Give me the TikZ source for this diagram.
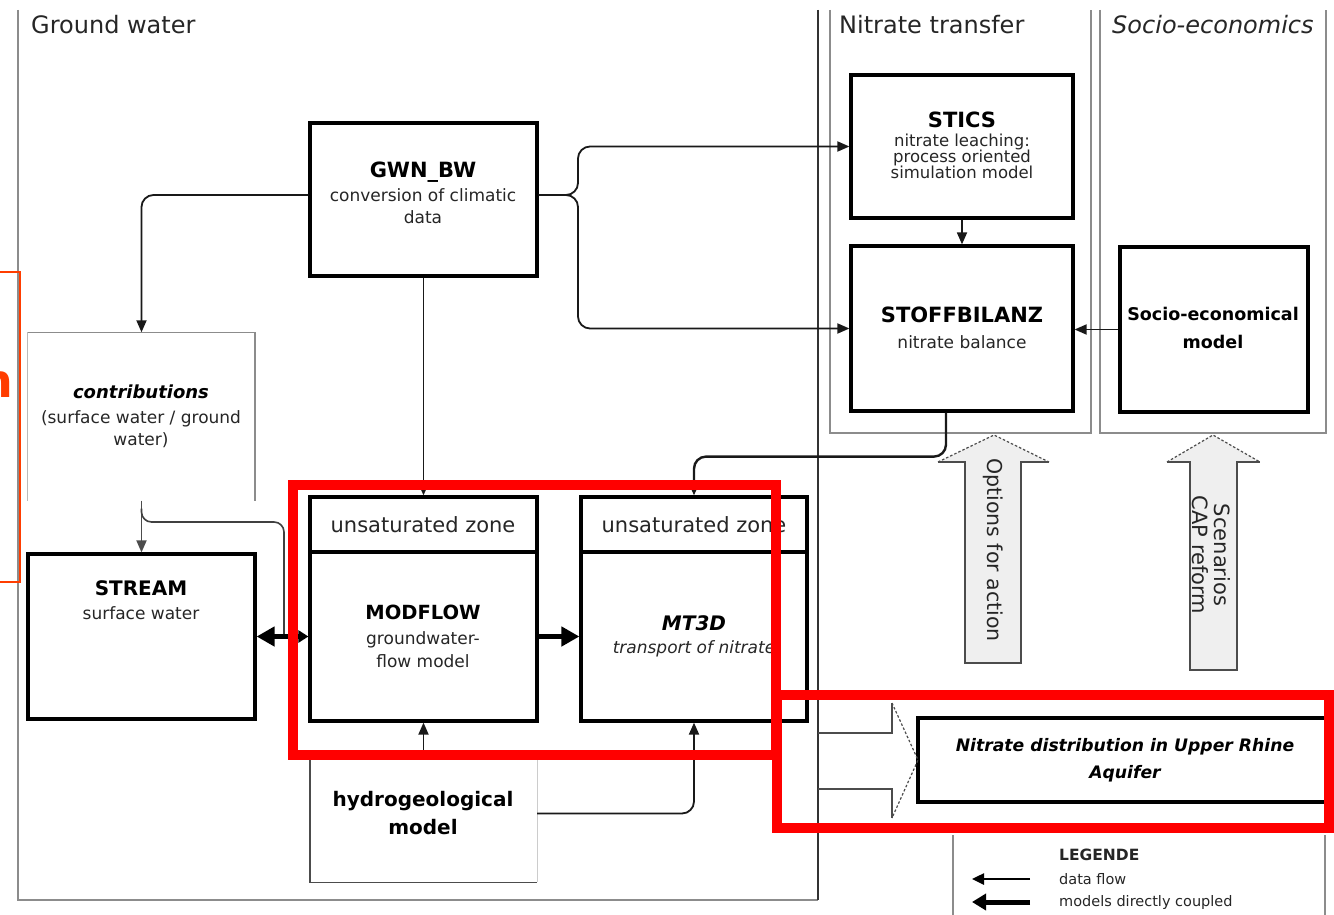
\documentclass[tikz,border=0pt]{standalone}
\usepackage{fontspec}
\setmainfont{DejaVu Sans}
\usetikzlibrary{arrows.meta}
\definecolor{txt}{HTML}{262626}
\definecolor{pan}{HTML}{8C8C8C}
\definecolor{redbox}{HTML}{FF0000}
\definecolor{orng}{HTML}{FF3D00}
\definecolor{arrfill}{HTML}{EFEFEF}
\begin{document}
\begin{tikzpicture}[x=1pt,y=-1pt,
  box/.style={draw=black, line width=3.2pt, inner sep=0pt},
  ghost/.style={draw=none, inner sep=0pt},
  panel/.style={draw=pan, line width=1.5pt},
  flow/.style={draw=black!90, line width=1.8pt, -{Triangle[length=12pt,width=10pt]}},
  plainline/.style={draw=black!75, line width=1.6pt},
  coupled/.style={draw=black, line width=5pt},
  paneltitle/.style={font=\fontsize{24}{28}\selectfont, text=txt, inner sep=0pt, anchor=west},
  title/.style={font=\bfseries\fontsize{21}{25}\selectfont, text=black, inner sep=0pt},
  sub/.style={font=\fontsize{17}{22}\selectfont, text=txt, inner sep=0pt, align=center},
  zone/.style={font=\fontsize{21}{25}\selectfont, text=txt, inner sep=0pt},
  legtxt/.style={font=\fontsize{14.5}{17}\selectfont, text=txt, inner sep=0pt, anchor=west},
  shaftline/.style={draw=black!70, line width=1.3pt},
  headline/.style={draw=black!70, line width=1.2pt, dash pattern=on 2.5pt off 2pt},
]
\useasboundingbox (0,0) rectangle (1334,915);
\clip (0,0) rectangle (1334,915);
\fill[white] (0,0) rectangle (1334,915);

% ---------- panels ----------
\draw[panel] (18,10) -- (18,900) -- (818,900);
\draw[draw=black!80, line width=1.3pt] (818,10) -- (818,900);
\draw[panel] (830,10) -- (830,433) -- (1091,433) -- (1091,10);
\draw[panel] (1100,10) -- (1100,433) -- (1326,433) -- (1326,10);
\draw[panel] (953,835) -- (953,915);
\draw[panel] (1325,835) -- (1325,915);

\node[paneltitle] (tGW) at (31,25) {Ground water};
\node[paneltitle] (tNT) at (839,25) {Nitrate transfer};
\node[paneltitle] (tSE) at (1112,25) {\itshape Socio-economics};

% ---------- boxes ----------
\node[box, minimum width=227pt, minimum height=153pt] (gwn) at (423.5,199.5) {};
\node[box, minimum width=222pt, minimum height=143pt] (stics) at (962,146.5) {};
\node[box, minimum width=222pt, minimum height=165pt] (stoff) at (962,328.5) {};
\node[box, minimum width=188pt, minimum height=165pt] (socio) at (1214,329.5) {};
\node[ghost, minimum width=227pt, minimum height=168pt] (contrib) at (141.5,416.5) {};
\draw[draw=pan!60, line width=1.2pt] (contrib.south west) -- (contrib.north west);
\draw[panel] (contrib.north west) -- (contrib.north east) -- (contrib.south east);
\node[box, minimum width=227pt, minimum height=165pt] (stream) at (141.5,636.5) {};
\node[box, minimum width=227pt, minimum height=55pt] (unsat1) at (423.5,524.5) {};
\node[box, minimum width=227pt, minimum height=169pt] (mod) at (423.5,636.5) {};
\node[box, minimum width=226pt, minimum height=55pt] (unsat2) at (694,524.5) {};
\node[box, minimum width=226pt, minimum height=169pt] (mt3d) at (694,636.5) {};
\node[ghost, minimum width=227pt, minimum height=125pt] (hydro) at (423.5,819.5) {};
\draw[draw=black!70, line width=1.4pt] (hydro.north west) -- (hydro.south west) -- (hydro.south east);
\draw[draw=black!20, line width=1pt] (hydro.south east) -- (hydro.north east);
\node[box, line width=4.5pt, minimum width=410pt, minimum height=84pt] (nitr) at (1123,760) {};

% ---------- texts ----------
\node[title] (gwnT) at (423,172) {GWN\_BW};
\node[sub] (gwnS) at (423,206) {conversion of climatic\\data};
\node[title] (sticsT) at (962,120) {STICS};
\node[sub, font=\fontsize{16.5}{16}\selectfont] (sticsS) at (962,156) {nitrate leaching:\\process oriented\\simulation model};
\node[title] (stoffT) at (962,315) {STOFFBILANZ};
\node[sub] (stoffS) at (962,342) {nitrate balance};
\node[sub, font=\bfseries\fontsize{17.5}{28}\selectfont, text=black] (socioT) at (1213,328) {Socio-economical\\model};
\node[title, font=\bfseries\itshape\fontsize{18}{22}\selectfont] (contribT) at (141,392) {contributions};
\node[sub] (contribS) at (141,429) {(surface water / ground\\water)};
\node[title, font=\bfseries\fontsize{20}{24}\selectfont] (streamT) at (141,588) {STREAM};
\node[sub] (streamS) at (141,613) {surface water};
\node[zone] (unsat1T) at (423,525) {unsaturated zone};
\node[zone] (unsat2T) at (694,525) {unsaturated zone};
\node[title, font=\bfseries\fontsize{19.5}{24}\selectfont] (modT) at (423,612) {MODFLOW};
\node[sub, font=\fontsize{17}{23}\selectfont] (modS) at (423,650) {groundwater-\\flow model};
\node[title, font=\bfseries\itshape\fontsize{20}{24}\selectfont] (mt3dT) at (694,623) {MT3D};
\node[sub, font=\itshape\fontsize{17}{22}\selectfont] (mt3dS) at (694,649) {transport of nitrate};
\node[sub, font=\bfseries\fontsize{20}{28}\selectfont, text=black] (hydroT) at (423,813) {hydrogeological\\model};
\node[sub, font=\bfseries\itshape\fontsize{17.2}{27}\selectfont, text=black] (nitrT) at (1125,760) {Nitrate distribution in Upper Rhine\\Aquifer};

% ---------- connectors ----------
\coordinate (split) at (578,195);
\draw[flow, rounded corners=12pt] ([yshift=4.5pt]gwn.west) -| (contrib.north);
\draw[flow, rounded corners=12pt] ([yshift=4.5pt]gwn.east) -| (split |- stics.west) -- (stics.west);
\draw[flow, rounded corners=12pt] ([yshift=4.5pt]gwn.east) -| (split |- stoff.west) -- (stoff.west);
\draw[flow] (gwn.south) -- (unsat1.north);
\draw[flow] (stics.south) -- (stics.south |- stoff.north);
\draw[flow] (socio.west) -- (socio.west -| stoff.east);
\draw[flow, line width=2.4pt, rounded corners=12pt] ([xshift=-16pt]stoff.south) -- ++(0,44) -| (unsat2.north);
\draw[flow, draw=black!70] (contrib.south) -- (stream.north);
\coordinate (junc) at (284,636.5);
\draw[plainline, rounded corners=10pt] ([yshift=-8pt]contrib.south) |- (junc |- 0,522) -- (junc);
\draw[coupled, {Triangle[length=18pt,width=19pt]}-{Triangle[length=10pt,width=12pt]}] (stream.east) -- (mod.west);
\draw[coupled, -{Triangle[length=18pt,width=19pt]}] (mod.east) -- (mt3d.west);
\draw[flow] (hydro.north) -- (mod.south);
\draw[flow, rounded corners=12pt] ([yshift=6pt]hydro.east) -| (mt3d.south);

% ---------- big hollow arrows ----------
\fill[arrfill] (965,663) -- (965,462) -- (938,462) -- (994,435) -- (1049,462) -- (1021,462) -- (1021,663) -- cycle;
\draw[shaftline] (938,462) -- (965,462) -- (965,663) -- (1021,663) -- (1021,462) -- (1049,462);
\draw[headline] (938,462) -- (994,435) -- (1049,462);
\node[zone, rotate=-90, font=\fontsize{20.5}{24}\selectfont] (optT) at (993,550) {Options for action};

\fill[arrfill] (1190,670) -- (1190,462) -- (1167,462) -- (1213,435) -- (1260,462) -- (1237,462) -- (1237,670) -- cycle;
\draw[shaftline] (1167,462) -- (1190,462) -- (1190,670) -- (1237,670) -- (1237,462) -- (1260,462);
\draw[headline] (1167,462) -- (1213,435) -- (1260,462);
\node[sub, rotate=-90, font=\fontsize{21}{22}\selectfont] (scenT) at (1211,555) {Scenarios\\CAP reform};

\draw[shaftline] (818,733) -- (892,733) -- (892,703);
\draw[shaftline] (818,789) -- (892,789) -- (892,818);
\draw[headline] (892,703) -- (918,760) -- (892,818);

% ---------- legend ----------
\node[legtxt, font=\bfseries\fontsize{15.5}{18}\selectfont, text=black!85] (legT) at (1059,855) {LEGENDE};
\node[legtxt] (leg1) at (1059,879) {data flow};
\node[legtxt] (leg2) at (1059,902) {models directly coupled};
\coordinate (l1a) at (1030,879);
\coordinate (l1b) at (972,879);
\coordinate (l2a) at (1030,902);
\coordinate (l2b) at (972,902);
\draw[draw=black, line width=2.5pt, -{Triangle[length=12pt,width=11pt]}] (l1a) -- (l1b);
\draw[draw=black, line width=5pt, -{Triangle[length=14pt,width=16pt]}] (l2a) -- (l2b);

% ---------- red overlays ----------
\draw[draw=orng, line width=1.8pt] (-5,272) -- (20,272) -- (20,582) -- (-5,582);
\node[inner sep=0pt, anchor=base east, text=orng, font=\bfseries\fontsize{46}{50}\selectfont] (ornN) at (13,397) {n};
\draw[draw=redbox, line width=10pt] (293,485) rectangle (776,755);
\draw[draw=redbox, line width=10pt] (777,695) rectangle (1329,828);
\end{tikzpicture}
\end{document}
